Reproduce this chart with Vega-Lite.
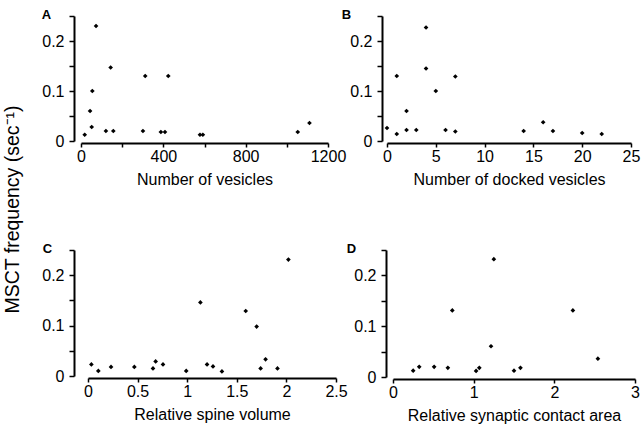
{
  "$schema": "https://vega.github.io/schema/vega-lite/v6.json",
  "background": "white",
  "padding": {"left": 3, "top": 8, "right": 5, "bottom": 5},
  "title": {"text": "MSCT frequency (sec⁻¹)", "orient": "left", "anchor": "middle", "fontSize": 19.5, "font": "Liberation Sans", "fontWeight": "normal", "color": "black", "offset": 18, "dx": 6},
  "config": {
    "view": {"stroke": null},
    "font": "Liberation Sans",
    "axis": {"grid": false, "domainColor": "black", "domainWidth": 2, "tickColor": "black", "tickWidth": 1.5, "tickSize": 5, "labelFont": "Liberation Sans", "labelFontSize": 16, "labelColor": "black", "titleFont": "Liberation Sans", "titleFontSize": 16, "titleFontWeight": "normal", "titleColor": "black", "labelPadding": 5, "titlePadding": 4, "labelFlush": false, "labelOverlap": false},
    "axisX": {"tickSize": 4, "labelPadding": 1, "titlePadding": 7, "offset": 2},
    "title": {"font": "Liberation Sans", "fontSize": 13, "fontWeight": "bold", "color": "black", "anchor": "start", "frame": "bounds", "offset": -14}
  },
  "datasets": {
    "A": [
      {"vesicles": 18, "freq": 0.0125}, {"vesicles": 73, "freq": 0.230}, {"vesicles": 44, "freq": 0.060},
      {"vesicles": 55, "freq": 0.100}, {"vesicles": 52, "freq": 0.028}, {"vesicles": 121, "freq": 0.020},
      {"vesicles": 157, "freq": 0.020}, {"vesicles": 144, "freq": 0.147}, {"vesicles": 301, "freq": 0.020},
      {"vesicles": 312, "freq": 0.130}, {"vesicles": 388, "freq": 0.018}, {"vesicles": 408, "freq": 0.018},
      {"vesicles": 424, "freq": 0.130}, {"vesicles": 578, "freq": 0.0125}, {"vesicles": 592, "freq": 0.0125},
      {"vesicles": 1053, "freq": 0.018}, {"vesicles": 1110, "freq": 0.036}
    ],
    "B": [
      {"docked": 0, "freq": 0.026}, {"docked": 1, "freq": 0.130}, {"docked": 1, "freq": 0.014},
      {"docked": 2, "freq": 0.060}, {"docked": 2, "freq": 0.022}, {"docked": 3, "freq": 0.022},
      {"docked": 4, "freq": 0.227}, {"docked": 4, "freq": 0.145}, {"docked": 5, "freq": 0.100},
      {"docked": 6, "freq": 0.022}, {"docked": 7, "freq": 0.129}, {"docked": 7, "freq": 0.019},
      {"docked": 14, "freq": 0.020}, {"docked": 16, "freq": 0.0375}, {"docked": 17, "freq": 0.020},
      {"docked": 20, "freq": 0.016}, {"docked": 22, "freq": 0.014}
    ],
    "C": [
      {"volume": 0.034, "freq": 0.023}, {"volume": 0.104, "freq": 0.010}, {"volume": 0.232, "freq": 0.018},
      {"volume": 0.467, "freq": 0.018}, {"volume": 0.655, "freq": 0.015}, {"volume": 0.682, "freq": 0.029},
      {"volume": 0.756, "freq": 0.023}, {"volume": 0.99, "freq": 0.010}, {"volume": 1.133, "freq": 0.146},
      {"volume": 1.20, "freq": 0.023}, {"volume": 1.26, "freq": 0.019}, {"volume": 1.35, "freq": 0.009},
      {"volume": 1.59, "freq": 0.129}, {"volume": 1.70, "freq": 0.098}, {"volume": 1.74, "freq": 0.015},
      {"volume": 1.79, "freq": 0.033}, {"volume": 1.91, "freq": 0.015}, {"volume": 2.02, "freq": 0.231}
    ],
    "D": [
      {"area": 0.25, "freq": 0.0125}, {"area": 0.325, "freq": 0.020}, {"area": 0.51, "freq": 0.020},
      {"area": 0.68, "freq": 0.018}, {"area": 0.735, "freq": 0.131}, {"area": 1.03, "freq": 0.012},
      {"area": 1.07, "freq": 0.018}, {"area": 1.215, "freq": 0.0605}, {"area": 1.25, "freq": 0.232},
      {"area": 1.50, "freq": 0.0125}, {"area": 1.58, "freq": 0.018}, {"area": 2.23, "freq": 0.131},
      {"area": 2.54, "freq": 0.036}
    ]
  },
  "spacing": 55,
  "vconcat": [
    {
      "bounds": "flush",
      "spacing": 59,
      "hconcat": [
        {
          "width": 247, "height": 125,
          "title": {"text": "A", "dx": 0},
          "data": {"name": "A"},
          "mark": {"type": "point", "shape": "diamond", "filled": true, "color": "black", "size": 22, "opacity": 1},
          "encoding": {
            "x": {"field": "vesicles", "type": "quantitative", "scale": {"domain": [0, 1200], "nice": false, "zero": false},
                  "axis": {"title": "Number of vesicles", "values": [0, 200, 400, 600, 800, 1000, 1200], "labelExpr": "datum.value % 400 == 0 ? datum.label : ''", "format": "d"}},
            "y": {"field": "freq", "type": "quantitative", "scale": {"domain": [0, 0.25], "nice": false},
                  "axis": {"title": null, "values": [0, 0.05, 0.1, 0.15, 0.2, 0.25], "format": ".1~f", "labelExpr": "abs(datum.value * 10 - round(datum.value * 10)) < 0.01 ? datum.label : ''", "offset": 7}}
          }
        },
        {
          "width": 244, "height": 125,
          "title": {"text": "B", "dx": -8},
          "data": {"name": "B"},
          "mark": {"type": "point", "shape": "diamond", "filled": true, "color": "black", "size": 22, "opacity": 1},
          "encoding": {
            "x": {"field": "docked", "type": "quantitative", "scale": {"domain": [0, 25], "nice": false, "zero": false},
                  "axis": {"title": "Number of docked vesicles", "values": [0, 5, 10, 15, 20, 25], "format": "d"}},
            "y": {"field": "freq", "type": "quantitative", "scale": {"domain": [0, 0.25], "nice": false},
                  "axis": {"title": null, "values": [0, 0.05, 0.1, 0.15, 0.2, 0.25], "format": ".1~f", "labelExpr": "abs(datum.value * 10 - round(datum.value * 10)) < 0.01 ? datum.label : ''", "offset": 5}}
          }
        }
      ]
    },
    {
      "bounds": "flush",
      "spacing": 57,
      "hconcat": [
        {
          "width": 255, "height": 126,
          "title": {"text": "C", "dx": 1},
          "data": {"name": "C"},
          "mark": {"type": "point", "shape": "diamond", "filled": true, "color": "black", "size": 22, "opacity": 1},
          "encoding": {
            "x": {"field": "volume", "type": "quantitative", "scale": {"domain": [0, 2.5], "nice": false, "zero": false, "range": [7, 255]},
                  "axis": {"title": "Relative spine volume", "values": [0, 0.5, 1, 1.5, 2, 2.5], "format": "~g"}},
            "y": {"field": "freq", "type": "quantitative", "scale": {"domain": [0, 0.25], "nice": false},
                  "axis": {"title": null, "values": [0, 0.05, 0.1, 0.15, 0.2, 0.25], "format": ".1~f", "labelExpr": "abs(datum.value * 10 - round(datum.value * 10)) < 0.01 ? datum.label : ''", "offset": 7}}
          }
        },
        {
          "width": 242, "height": 127,
          "title": {"text": "D", "dx": -7},
          "data": {"name": "D"},
          "mark": {"type": "point", "shape": "diamond", "filled": true, "color": "black", "size": 22, "opacity": 1},
          "encoding": {
            "x": {"field": "area", "type": "quantitative", "scale": {"domain": [0, 3], "nice": false, "zero": false},
                  "axis": {"title": "Relative synaptic contact area", "values": [0, 1, 2, 3], "format": "d"}},
            "y": {"field": "freq", "type": "quantitative", "scale": {"domain": [0, 0.25], "nice": false},
                  "axis": {"title": null, "values": [0, 0.05, 0.1, 0.15, 0.2, 0.25], "format": ".1~f", "labelExpr": "abs(datum.value * 10 - round(datum.value * 10)) < 0.01 ? datum.label : ''", "offset": 7}}
          }
        }
      ]
    }
  ]
}
